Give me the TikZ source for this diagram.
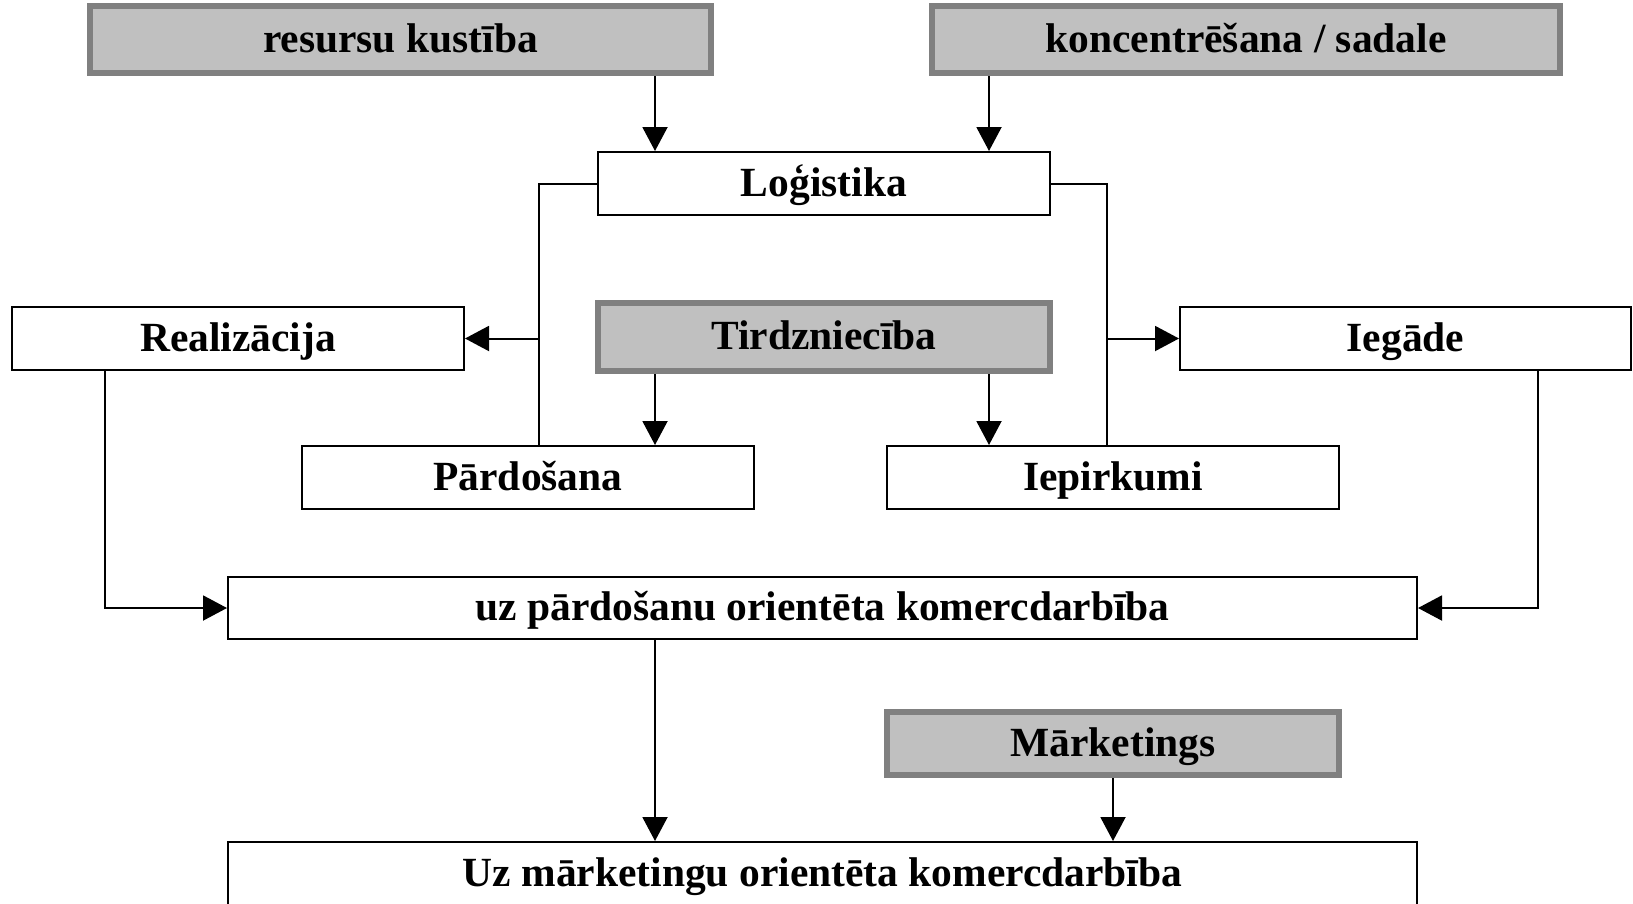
\documentclass[tikz,border=0pt]{standalone}
\usepackage{fontspec}
\setmainfont{Liberation Serif}
\usetikzlibrary{arrows.meta}
\definecolor{boxgray}{HTML}{C0C0C0}
\definecolor{edgegray}{HTML}{808080}
\tikzset{
  base/.style={rectangle, inner sep=0pt, text height=32pt, text depth=7pt, font=\fontsize{41.5}{48}\selectfont\bfseries, text=black},
  whitebox/.style={base, draw=black, fill=white, line width=2pt},
  graybox/.style={base, draw=edgegray, fill=boxgray, line width=6pt},
  link/.style={draw=black, line width=2pt},
  arr/.style={link, -{Triangle[length=24pt, width=25pt]}}
}
\begin{document}
\begin{tikzpicture}[x=1pt, y=-1pt]
\useasboundingbox (0,0) rectangle (1633,903);
% boxes
\node[graybox, minimum width=621pt, minimum height=67pt] (res) at (400.5,39.5) {resursu kustība};
\node[graybox, minimum width=628pt, minimum height=67pt] (konc) at (1246,39.5) {koncentrēšana / sadale};
\node[whitebox, minimum width=452pt, minimum height=63pt] (log) at (824,183.5) {Loģistika};
\node[whitebox, minimum width=452pt, minimum height=63pt] (real) at (238,338.5) {Realizācija};
\node[graybox, minimum width=452pt, minimum height=68pt] (tird) at (824,337) {Tirdzniecība};
\node[whitebox, minimum width=451pt, minimum height=63pt] (iega) at (1405.5,338.5) {Iegāde};
\node[whitebox, minimum width=452pt, minimum height=63pt] (pard) at (528,477.5) {Pārdošana};
\node[whitebox, minimum width=452pt, minimum height=63pt] (iepi) at (1113,477.5) {Iepirkumi};
\node[whitebox, minimum width=1189pt, minimum height=62pt] (uzp) at (822.5,608) {uz pārdošanu orientēta komercdarbība};
\node[graybox, minimum width=452pt, minimum height=63pt] (mark) at (1113,743.5) {Mārketings};
\node[whitebox, minimum width=1189pt, minimum height=63pt] (uzm) at (822.5,873.5) {Uz mārketingu orientēta komercdarbība};
% guide coordinates
\coordinate (xa) at (655,0);
\coordinate (xb) at (989,0);
\coordinate (L) at (539,0);
\coordinate (R) at (1107,0);
\coordinate (xl) at (105,0);
\coordinate (xr) at (1538,0);
% connectors
\draw[arr] (xa |- res.south) -- (xa |- log.north);
\draw[arr] (xb |- konc.south) -- (xb |- log.north);
\draw[link] (log.west) -| (L |- pard.north);
\draw[arr] (L |- real.east) -- (real.east);
\draw[link] (log.east) -| (R |- iepi.north);
\draw[arr] (R |- iega.west) -- (iega.west);
\draw[arr] (xa |- tird.south) -- (xa |- pard.north);
\draw[arr] (xb |- tird.south) -- (xb |- iepi.north);
\draw[arr] (xl |- real.south) |- (uzp.west);
\draw[arr] (xr |- iega.south) |- (uzp.east);
\draw[arr] (xa |- uzp.south) -- (xa |- uzm.north);
\draw[arr] (mark.south) -- (mark.south |- uzm.north);
\end{tikzpicture}
\end{document}
